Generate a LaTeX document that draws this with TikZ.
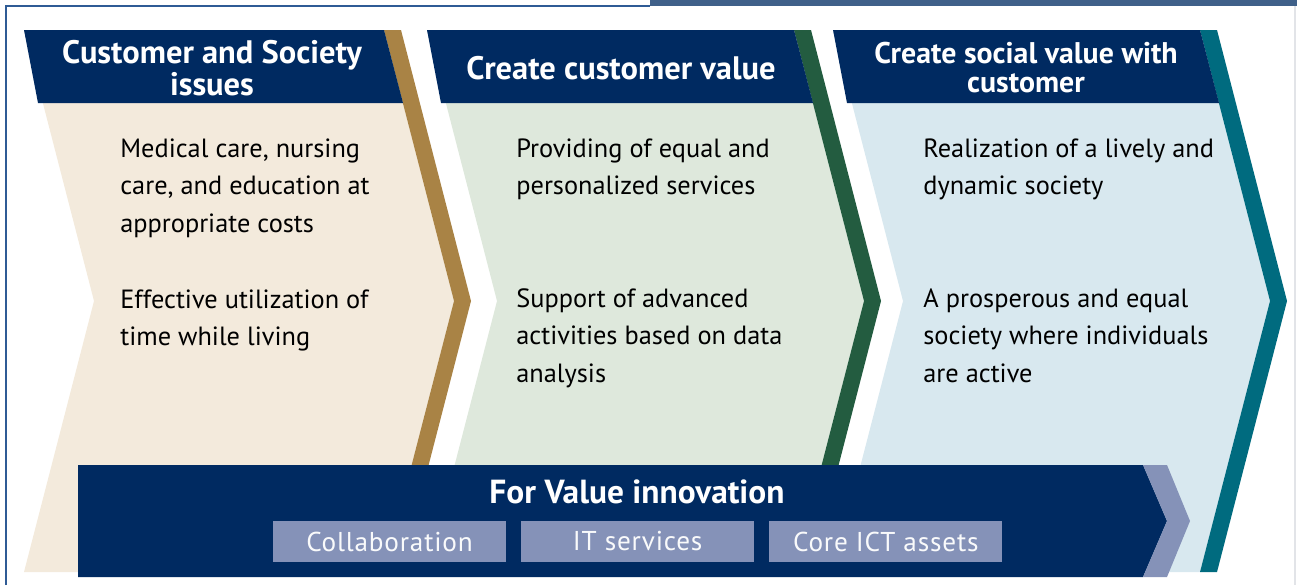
\documentclass[tikz,border=0pt]{standalone}
\usepackage{fontspec}
\setmainfont{PT Sans}
\newfontfamily\spacedfont[LetterSpace=3]{PT Sans}
\usetikzlibrary{positioning}

\definecolor{navy}{HTML}{002A61}
\definecolor{frameblue}{HTML}{2F5B95}
\definecolor{bandblue}{HTML}{3F6089}
\definecolor{framegray}{HTML}{E2E4E8}
\definecolor{beige}{HTML}{F3EADC}
\definecolor{gold}{HTML}{A98345}
\definecolor{mint}{HTML}{DEE8DC}
\definecolor{forest}{HTML}{235C40}
\definecolor{ice}{HTML}{D8E8EF}
\definecolor{teal}{HTML}{006B7F}
\definecolor{lavender}{HTML}{8592B8}

\tikzset{
  headtext/.style={text=white, align=center, inner sep=0pt,
    font=\bfseries\fontsize{18.5}{16.5}\selectfont},
  bodytext/.style={anchor=base west, align=left, inner sep=0pt,
    font=\fontsize{15}{21.3}\selectfont},
  pillbox/.style={fill=lavender, text=white!95!lavender, inner sep=0pt,
    minimum width=4.66cm, minimum height=0.82cm,
    font=\spacedfont\fontsize{15.5}{18}\selectfont}
}

% body, coloured edge and dark head of one arrow: left x, right x, fill, edge
\def\chevron#1#2#3#4{%
  \fill[#3] (#1,30) -- ({#2-17},30) -- ({#2+53},301) -- ({#2-17},572) -- (#1,572) -- ({#1+70},301) -- cycle;
  \fill[#4] ({#2-17},30) -- (#2,30) -- ({#2+70},301) -- (#2,572) -- ({#2-17},572) -- ({#2+53},301) -- cycle;
  \fill[navy] (#1,30) -- ({#2-17},30) -- ({#2+2},103) -- ({#1+14},103) -- cycle;
}

\begin{document}
\begin{tikzpicture}[x=0.02cm, y=-0.02cm]
		%%%%% START %%%%%
		\useasboundingbox (0,0) rectangle (1297,585);
		
		\draw[frameblue, line width=1.1pt] (6,585) -- (6,6) -- (650,6);
		\fill[bandblue] (650,0) rectangle (1297,6);
		\draw[framegray, line width=0.8pt] (1295,6) -- (1295,585);
		
		\chevron{24}{401}{beige}{gold}
		\chevron{427}{811}{mint}{forest}
		\chevron{833}{1217}{ice}{teal}
		
		\node[headtext] (head1) at (212,68) {Customer and Society\\issues};
		\node[headtext] (head2) at (621,68) {Create customer value};
		\node[headtext, font=\bfseries\fontsize{17}{16.5}\selectfont] (head3) at (1026,68) {Create social value with\\customer};
		
		% base = last line
		\node[bodytext] (issueA) at (120,232) {Medical care, nursing\\care, and education at\\appropriate costs};
		\node[bodytext] (issueB) at (120,345.5) {Effective utilization of\\time while living};
		\node[bodytext] (custA) at (516,194.5) {Providing of equal and\\personalized services};
		\node[bodytext] (custB) at (516,382) {Support of advanced\\activities based on data\\analysis};
		\node[bodytext] (socA) at (923,194.5) {Realization of a lively and\\dynamic society};
		\node[bodytext] (socB) at (923,382) {A prosperous and equal\\society where individuals\\are active};
		
		\fill[navy] (78,465) -- (1143,465) -- (1167,521) -- (1143,577) -- (78,577) -- cycle;
		\fill[lavender] (1143,465) -- (1167,465) -- (1190,521) -- (1167,577) -- (1143,577) -- (1167,521) -- cycle;
		
		\node[text=white, font=\bfseries\fontsize{19}{20}\selectfont] (innov) at (637,492) {For Value innovation};
		\node[pillbox] (collab) at (389.5,541.5) {Collaboration};
		\node[pillbox, right=0.29cm of collab] (itsvc) {IT services};
		\node[pillbox, right=0.29cm of itsvc] (coreict) {Core ICT assets};
		
		%%%%% END %%%%%
\end{tikzpicture}
\end{document}
